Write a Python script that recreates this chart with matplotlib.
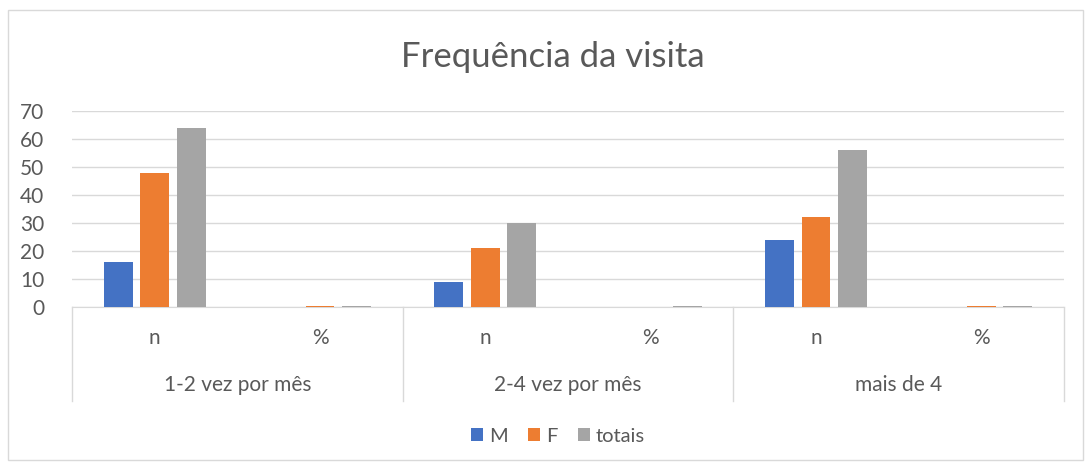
import numpy as np
import matplotlib.pyplot as plt
from matplotlib.patches import Rectangle
from matplotlib.transforms import blended_transform_factory

plt.rcParams['font.family'] = ['Lato', 'DejaVu Sans']

# data
groups = ['1-2 vez por mês', '2-4 vez por mês', 'mais de 4']
subcats = ['n', '%']
series = ['M', 'F', 'totais']
M = [16, 0.1, 9, 0.05, 24, 0.1]
F = [48, 0.3, 21, 0.1, 32, 0.2]
totais = [64, 0.4, 30, 0.2, 56, 0.35]
colors = ['#4472C4', '#ED7D31', '#A5A5A5']

fig = plt.figure(figsize=(10.9, 4.68), dpi=100)
fig.patches.append(Rectangle((8/1090, 1 - 460/468), 1075/1090, 450/468,
                             transform=fig.transFigure, fill=False,
                             edgecolor='#d9d9d9', lw=1))
ax = fig.add_axes([72/1090, 1 - 307/468, 992/1090, 196/468])

x = np.arange(len(M))
w = 0.175
step = 0.22
for i, (vals, c) in enumerate(zip([M, F, totais], colors)):
    ax.bar(x + (i - 1) * step, vals, width=w, color=c, label=series[i], zorder=3)

ax.set_xlim(-0.5, len(M) - 0.5)
ax.set_ylim(0, 70)
ax.set_yticks(range(0, 71, 10))
ax.yaxis.grid(True, color='#d9d9d9', lw=1, zorder=0)
for s in ['top', 'right', 'left']:
    ax.spines[s].set_visible(False)
ax.spines['bottom'].set_color('#d9d9d9')
ax.tick_params(axis='y', length=0, labelsize=15, labelcolor='#595959', pad=20)
ax.set_xticks([])

# multi-level category axis
tr = blended_transform_factory(ax.transData, ax.transAxes)
for k in range(len(groups) + 1):
    ax.plot([k * 2 - 0.5] * 2, [0, -0.48], transform=tr, color='#d9d9d9',
            lw=1, clip_on=False)
for j in range(len(M)):
    ax.text(j, -0.16, subcats[j % 2], transform=tr, ha='center', va='center',
            fontsize=15, color='#595959')
for g, name in enumerate(groups):
    ax.text(g * 2 + 0.5, -0.40, name, transform=tr, ha='center', va='center',
            fontsize=15, color='#595959')

fig.text(0.507, 1 - 57/468, 'Frequência da visita', ha='center', va='center',
         fontsize=25, color='#595959')

leg = fig.legend(loc='center', bbox_to_anchor=(0.512, 1 - 436/468), ncol=3,
                 frameon=False, fontsize=14.5, handlelength=0.6, handleheight=0.6,
                 handletextpad=0.3, columnspacing=1.0)
for t in leg.get_texts():
    t.set_color('#595959')

fig.savefig('out.png', dpi=100)
